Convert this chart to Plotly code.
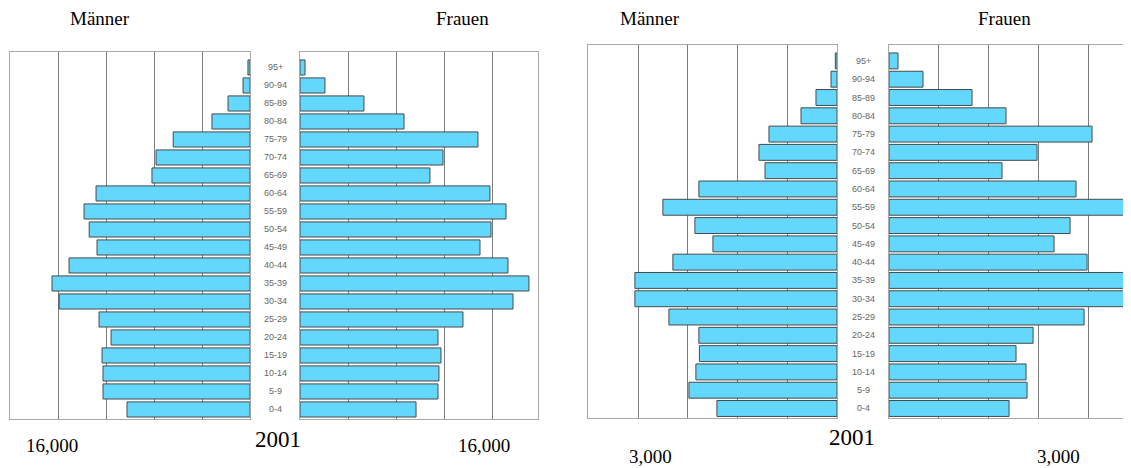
import plotly.graph_objects as go

W, H = 1131, 468
# the page body has an 8px margin; the figure is shrunk and shifted to compensate
OX, OY = 8, 8
FW, FH = W - OX, H - OY

ages = ['0-4', '5-9', '10-14', '15-19', '20-24', '25-29', '30-34', '35-39', '40-44',
        '45-49', '50-54', '55-59', '60-64', '65-69', '70-74', '75-79', '80-84',
        '85-89', '90-94', '95+']

# Pyramid 1 (2001)
maenner_1 = [10250, 12250, 12250, 12330, 11580, 12580, 15900, 16500, 15080, 12750,
             13400, 13830, 12830, 8170, 7830, 6400, 3170, 1830, 580, 170]
frauen_1 = [9670, 11500, 11580, 11750, 11500, 13580, 17750, 19080, 17330, 15000,
            15920, 17170, 15830, 10830, 11920, 14830, 8670, 5330, 2080, 420]

# Pyramid 2 (2001)
maenner_2 = [1811, 2233, 2128, 2075, 2083, 2535, 3048, 3048, 2475, 1871,
             2143, 2626, 2083, 1086, 1177, 1026, 543, 317, 90, 25]
frauen_2 = [1810, 2081, 2066, 1915, 2172, 2941, 3900, 3900, 2986, 2488,
            2730, 3559, 2820, 1704, 2232, 3061, 1764, 1252, 513, 136]

header_left = 'Männer'
header_right = 'Frauen'
year_label = '2001'
scale_label_1 = '16,000'
scale_label_2 = '3,000'

BAR = '#63D7FC'
EDGE = '#4a4a4a'
GRID = '#7c7c7c'
FRAME = '#a8a8a8'


def px(x):
    return (x - OX) / FW


def py(y):
    return 1 - (y - OY) / FH


fig = go.Figure()

traces = [
    (maenner_1, 'x', 'y', 0.84),
    (frauen_1, 'x2', 'y2', 0.84),
    (maenner_2, 'x3', 'y3', 0.87),
    (frauen_2, 'x4', 'y4', 0.87),
]
for vals, xa, ya, w in traces:
    fig.add_trace(go.Bar(
        x=vals, y=ages, orientation='h', xaxis=xa, yaxis=ya, width=w,
        marker=dict(color=BAR, line=dict(color=EDGE, width=1)),
        showlegend=False, hoverinfo='x+y'))


def xax(domain, rng, dtick, anchor, mirror=True):
    return dict(domain=domain, range=rng, dtick=dtick, tick0=0, showgrid=True,
                gridcolor=GRID, gridwidth=1, showticklabels=False, ticks='',
                zeroline=False, showline=True, linecolor=FRAME, linewidth=1,
                mirror=mirror, anchor=anchor, fixedrange=True)


def yax(domain, rng, anchor, mirror=True):
    return dict(domain=domain, range=rng, type='category',
                categoryorder='array', categoryarray=ages,
                showgrid=False, showticklabels=False, ticks='', zeroline=False,
                showline=True, linecolor=FRAME, linewidth=1, mirror=mirror,
                anchor=anchor, fixedrange=True)


yd1 = [py(419), py(52)]
yr1 = [-0.53, 19.86]
yd2 = [py(418), py(45)]
yr2 = [-0.52, 19.87]

fig.update_layout(
    width=FW, height=FH,
    margin=dict(l=0, r=0, t=0, b=0),
    paper_bgcolor='white', plot_bgcolor='white',
    xaxis=xax([px(10), px(250)], [20000, 0], 4000, 'y'),
    yaxis=yax(yd1, yr1, 'x'),
    xaxis2=xax([px(300), px(538)], [0, 19833], 4000, 'y2'),
    yaxis2=yax(yd1, yr1, 'x2'),
    xaxis3=xax([px(588), px(837)], [3755, 0], 750, 'y3'),
    yaxis3=yax(yd2, yr2, 'x3'),
    xaxis4=xax([px(889), 1.0], [0, 3648], 750, 'y4', mirror=True),
    yaxis4=yax(yd2, yr2, 'x4', mirror=False),
)

serif = 'Liberation Serif, Times New Roman, serif'
ann = []


def text(x, y, t, size):
    ann.append(dict(x=px(x), y=py(y), xref='paper', yref='paper', text=t,
                    showarrow=False, xanchor='center', yanchor='middle',
                    font=dict(family=serif, size=size, color='black')))


text(100, 19, header_left, 19)
text(462, 19, header_right, 19)
text(650, 19, header_left, 19)
text(1004, 19, header_right, 19)
text(278, 439, year_label, 23)
text(852, 437, year_label, 23)
text(52, 445, scale_label_1, 19)
text(484, 445, scale_label_1, 19)
text(650, 456, scale_label_2, 19)
text(1058, 456, scale_label_2, 19)

for a in ages:
    ann.append(dict(x=px(275), y=a, xref='paper', yref='y', text=a,
                    showarrow=False, xanchor='center', yanchor='middle',
                    font=dict(family='Liberation Sans, Arial, sans-serif',
                              size=9, color='#666666')))
    ann.append(dict(x=px(863), y=a, xref='paper', yref='y3', text=a,
                    showarrow=False, xanchor='center', yanchor='middle',
                    font=dict(family='Liberation Sans, Arial, sans-serif',
                              size=9, color='#666666')))

fig.update_layout(annotations=ann)

# hide page scrollbars so the full figure width stays visible
fig.write_html(
    'out.html',
    post_script="document.documentElement.style.overflow='hidden';"
                "document.body.style.overflow='hidden';")
